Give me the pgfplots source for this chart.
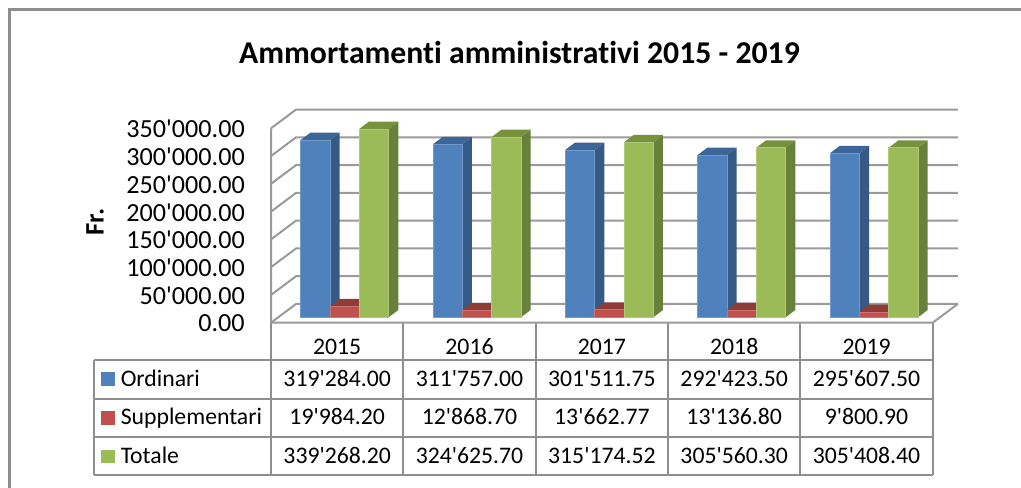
\documentclass[border=0pt]{standalone}
\usepackage{fontspec}
\setmainfont{Carlito}[Ligatures={TeXOff,NoCommon}]
\usepackage{pgfplots}
\pgfplotsset{compat=1.18}

\definecolor{gridgray}{HTML}{9A9A9A}
\definecolor{tablegray}{HTML}{8E8E8E}
\definecolor{bluef}{HTML}{4F81BD}
\definecolor{blues}{HTML}{355A86}
\definecolor{bluet}{HTML}{3D6698}
\definecolor{redf}{HTML}{C0504D}
\definecolor{reds}{HTML}{873836}
\definecolor{redt}{HTML}{8F3B38}
\definecolor{greenf}{HTML}{9BBB59}
\definecolor{greens}{HTML}{67803A}
\definecolor{greent}{HTML}{76933C}

% one 3D bar: left edge in category units, value, colour prefix
\newcommand{\threedbar}[3]{%
  \edef\xa{\fpeval{#1+0.2215}}% bar width
  \edef\xb{\fpeval{#1+0.2215+0.0725}}% right edge with depth
  \edef\xc{\fpeval{#1+0.0725}}%
  \edef\yb{\fpeval{9700}}% base
  \edef\yt{\fpeval{#2+9700}}%
  \edef\ybb{\fpeval{9700+13100}}%
  \edef\ytb{\fpeval{#2+9700+13100}}%
  \edef\barcmd{%
    \noexpand\addplot[fill=#3s,draw=none] coordinates {(\xa,\yb) (\xb,\ybb) (\xb,\ytb) (\xa,\yt)} --cycle;
    \noexpand\addplot[fill=#3t,draw=none] coordinates {(#1,\yt) (\xa,\yt) (\xb,\ytb) (\xc,\ytb)} --cycle;
    \noexpand\addplot[fill=#3f,draw=#3f!80!white,line width=0.4pt] coordinates {(#1,\yb) (\xa,\yb) (\xa,\yt) (#1,\yt)} --cycle;
  }\barcmd}

% one group of three bars
\newcommand{\threedgroup}[4]{%
  \threedbar{\fpeval{#1+0.2245}}{#2}{blue}%
  \threedbar{\fpeval{#1+0.446}}{#3}{red}%
  \threedbar{\fpeval{#1+0.6675}}{#4}{green}}

\begin{document}
\begin{tikzpicture}[x=0.75pt,y=-0.75pt]
\path[use as bounding box] (0,0) rectangle (1021,488);
\draw[tablegray,line width=1.6pt] (9.5,488) -- (9.5,9.5) -- (1021,9.5);

% data table
\draw[tablegray,line width=1.5pt] (271,322.7) -- (271,475);
\foreach \x in {403.3,535.7,668,800.4,932.7}
  \draw[tablegray,line width=1.5pt] (\x,322.7) -- (\x,475);
\draw[tablegray,line width=1.5pt] (93.5,360) -- (932.7,360) (93.5,398.7) -- (932.7,398.7)
  (93.5,436.8) -- (932.7,436.8) (93.5,475) -- (932.7,475) (93.5,360) -- (93.5,475);

\fill[bluef] (101,372.3) rectangle (115,386);
\fill[redf] (101,411) rectangle (115,425);
\fill[greenf] (101,449.5) rectangle (115,463);
\begin{scope}[every node/.style={font=\fontsize{17.8}{20}\selectfont,inner sep=0pt}]
\node[anchor=base west] at (120.5,386) {Ordinari};
\node[anchor=base west] at (120.5,424.5) {Supplementari};
\node[anchor=base west] at (120.5,463) {Totale};
\foreach \x/\a/\b/\c in {337.2/319'284.00/19'984.20/339'268.20,
    469.5/311'757.00/12'868.70/324'625.70,
    601.9/301'511.75/13'662.77/315'174.52,
    734.2/292'423.50/13'136.80/305'560.30,
    866.5/295'607.50/9'800.90/305'408.40} {
  \node[anchor=base] at (\x,386) {\a};
  \node[anchor=base] at (\x,424.5) {\b};
  \node[anchor=base] at (\x,463) {\c};
}
\end{scope}

\begin{axis}[
    at={(203.25pt,-242.03pt)},
    anchor=south west,
    scale only axis,
    width=496.3pt,
    height=145.8pt,
    xmin=0, xmax=5,
    ymin=0, ymax=350000,
    clip=false,
    axis line style={draw=none},
    major tick length=0pt,
    xtick={0.5,1.5,2.5,3.5,4.5},
    xticklabels={2015,2016,2017,2018,2019},
    ytick={0,50000,100000,150000,200000,250000,300000,350000},
    yticklabels={0.00,50'000.00,100'000.00,150'000.00,200'000.00,250'000.00,300'000.00,350'000.00},
    scaled y ticks=false,
    xticklabel style={font=\fontsize{17.8}{20}\selectfont,inner sep=0pt,anchor=base,yshift=-24pt},
    yticklabel style={font=\fontsize{19.6}{22}\selectfont,inner sep=0pt,anchor=east,xshift=-19.5pt,yshift=-0.6pt},
    /pgf/number format/assume math mode=true,
    title={Ammortamenti amministrativi 2015 - 2019},
    title style={font=\fontsize{23.8}{28}\selectfont\bfseries,at={(axis description cs:0.3755,1.351)},anchor=center},
    ylabel={Fr.},
    ylabel style={font=\fontsize{20}{22}\selectfont\bfseries,at={(axis description cs:-0.266,0.518)},anchor=center},
]
% walls and floor
\pgfplotsset{every axis plot/.append style={forget plot}}
\addplot[gridgray,line width=1.5pt] coordinates {(0,350000) (0,0) (5,0) (5.189,33700)};
\addplot[gridgray,line width=1.5pt] coordinates {(0,0) (0.189,33700) (5.189,33700)};
\addplot[gridgray,line width=1.5pt] coordinates {(0,50000) (0.189,83700) (5.189,83700)};
\addplot[gridgray,line width=1.5pt] coordinates {(0,100000) (0.189,133700) (5.189,133700)};
\addplot[gridgray,line width=1.5pt] coordinates {(0,150000) (0.189,183700) (5.189,183700)};
\addplot[gridgray,line width=1.5pt] coordinates {(0,200000) (0.189,233700) (5.189,233700)};
\addplot[gridgray,line width=1.5pt] coordinates {(0,250000) (0.189,283700) (5.189,283700)};
\addplot[gridgray,line width=1.5pt] coordinates {(0,300000) (0.189,333700) (5.189,333700)};
\addplot[gridgray,line width=1.5pt] coordinates {(0,350000) (0.189,383700) (5.189,383700)};
% bars
\threedgroup{0}{319284.00}{19984.20}{339268.20}
\threedgroup{1}{311757.00}{12868.70}{324625.70}
\threedgroup{2}{301511.75}{13662.77}{315174.52}
\threedgroup{3}{292423.50}{13136.80}{305560.30}
\threedgroup{4}{295607.50}{9800.90}{305408.40}
\end{axis}
\end{tikzpicture}
\end{document}
